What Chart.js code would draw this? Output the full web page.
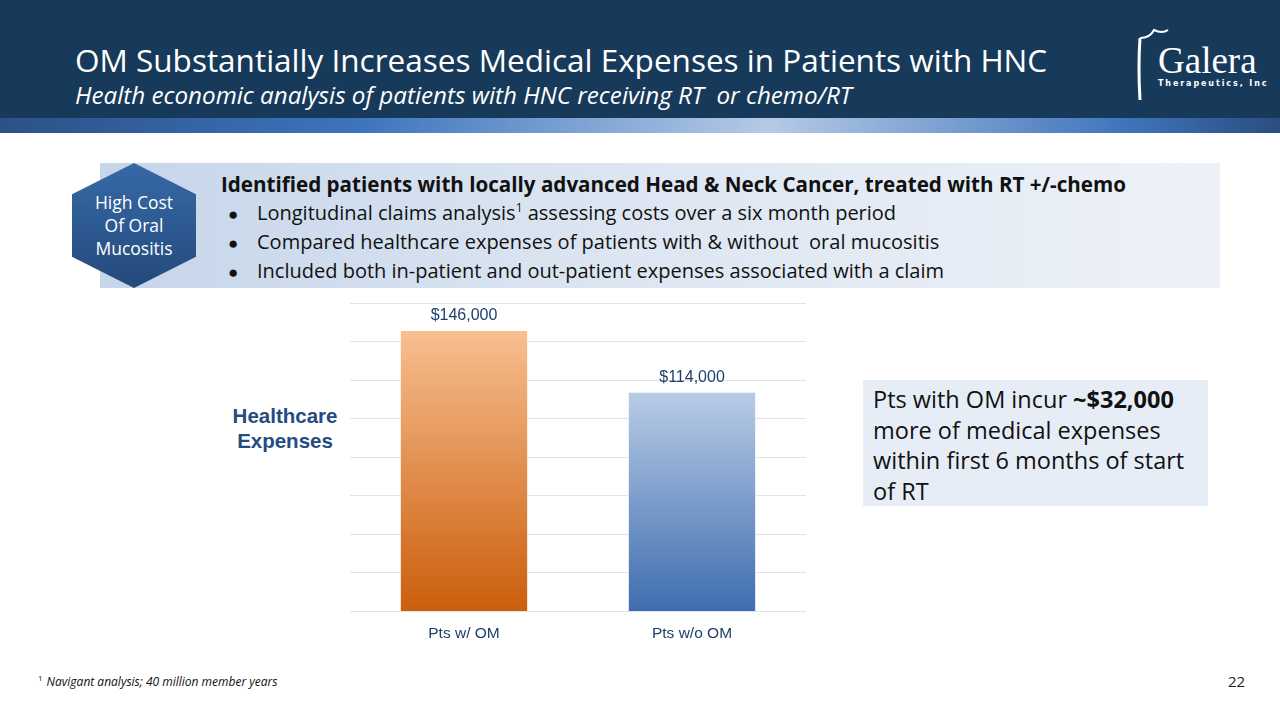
<!DOCTYPE html>
<html>
<head>
<meta charset="utf-8">
<script src="https://cdn.jsdelivr.net/npm/chart.js@4.4.0/dist/chart.umd.min.js"></script>
<style>
  html, body { margin: 0; padding: 0; }
  body { width: 1280px; height: 720px; position: relative; overflow: hidden; background: #fff; font-family: "Open Sans", "Noto Sans", sans-serif; }
  .header { position: absolute; left: 0; top: 0; width: 1280px; height: 118px; background: #173a5a; }
  .band { position: absolute; left: 0; top: 118px; width: 1280px; height: 15px;
    background: linear-gradient(90deg, #2c5187 0%, #3c74bd 28%, #b5cae6 60%, #3f74bb 88%, #2a4d80 100%); }
  .title { position: absolute; left: 75px; top: 38px; color: #fff; font-size: 31.5px; white-space: nowrap; }
  .subtitle { position: absolute; left: 75px; top: 78px; color: #fff; font-size: 24.2px; font-style: italic; white-space: nowrap; }
  .logo { position: absolute; left: 1128px; top: 26px; width: 150px; height: 80px; }
  .info { position: absolute; left: 100px; top: 163px; width: 1120px; height: 125px;
    background: linear-gradient(90deg, #c5d5ea 0%, #dae4f1 40%, #eef2f8 100%); }
  .hex { position: absolute; left: 72px; top: 163px; width: 124px; height: 125px;
    clip-path: polygon(50% 0, 100% 25%, 100% 75%, 50% 100%, 0 75%, 0 25%);
    background: linear-gradient(180deg, #3769a6 0%, #2d5a92 50%, #24497a 100%);
    color: #fff; font-size: 17.5px; line-height: 23px; text-align: center;
    display: flex; align-items: center; justify-content: center; }
  .lead { position: absolute; left: 221px; top: 170px; font-size: 20.6px; font-weight: bold; color: #111; white-space: nowrap; }
  .bul { position: absolute; left: 228px; font-size: 20px; color: #111; white-space: nowrap; }
  .bul span.dot { display: inline-block; width: 29px; font-size: 17px; }
  .bul sup { font-size: 12px; }
  .ylab { position: absolute; left: 200px; top: 403px; width: 170px; text-align: center;
    font-family: "Liberation Sans", Arial, sans-serif; font-weight: bold; font-size: 20.5px; line-height: 25px; color: #244c80; }
  .chartbox { position: absolute; left: 340px; top: 295px; width: 476px; height: 353px; }
  .note { position: absolute; left: 863px; top: 380px; width: 345px; height: 126px; background: #e7edf6; }
  .note p { margin: 0; position: absolute; left: 10px; top: 4px; font-size: 23.5px; line-height: 30.5px; color: #111; }
  .foot { position: absolute; left: 38px; top: 672px; font-size: 12px; font-style: italic; color: #111; white-space: nowrap; }
  .foot sup { font-style: normal; font-size: 8px; margin-right: 4px; }
  .pg { position: absolute; left: 1228px; top: 671px; font-size: 15px; color: #222; }
</style>
</head>
<body>
<div class="header"></div>
<div class="band"></div>
<div class="title">OM Substantially Increases Medical Expenses in Patients with HNC</div>
<div class="subtitle">Health economic analysis of patients with HNC receiving RT&nbsp; or chemo/RT</div>
<svg class="logo" viewBox="0 0 150 80">
  <path d="M12 12 Q10 40 12 74" stroke="#fff" stroke-width="3" fill="none"/>
  <path d="M12 12 Q22 12 26 4 Q34 8 40 4" stroke="#fff" stroke-width="2" fill="none"/>
  <text x="30" y="47" fill="#fff" font-family="Liberation Serif, DejaVu Serif, serif" font-size="37">Galera</text>
  <text x="30" y="60" fill="#fff" font-family="DejaVu Sans, sans-serif" font-size="8" font-weight="bold" letter-spacing="1.9">Therapeutics, Inc</text>
</svg>

<div class="info"></div>
<div class="hex"><div>High Cost<br>Of Oral<br>Mucositis</div></div>
<div class="lead">Identified patients with locally advanced Head &amp; Neck Cancer, treated with RT +/-chemo</div>
<div class="bul" style="top:199px"><span class="dot">&#9679;</span>Longitudinal claims analysis<sup>1</sup> assessing costs over a six month period</div>
<div class="bul" style="top:228px"><span class="dot">&#9679;</span>Compared healthcare expenses of patients with &amp; without&nbsp; oral mucositis</div>
<div class="bul" style="top:257px"><span class="dot">&#9679;</span>Included both in-patient and out-patient expenses associated with a claim</div>

<div class="ylab">Healthcare<br>Expenses</div>
<div class="chartbox"><canvas id="chart"></canvas></div>

<div class="note"><p>Pts with OM incur <b>~$32,000</b><br>more of medical expenses<br>within first 6 months of start<br>of RT</p></div>

<div class="foot"><sup>1</sup>Navigant analysis; 40 million member years</div>
<div class="pg">22</div>

<script>
const categories = ['Pts w/ OM', 'Pts w/o OM'];
const expenses = [146000, 114000];
const valueLabels = ['$146,000', '$114,000'];
const yMax = 160000;
const yStep = 20000;

const barGradient = (ctx, top, bottom, c1, c2) => {
  const g = ctx.createLinearGradient(0, top, 0, bottom);
  g.addColorStop(0, c1);
  g.addColorStop(1, c2);
  return g;
};

const valueLabelPlugin = {
  id: 'valueLabels',
  afterDatasetsDraw(chart) {
    const { ctx } = chart;
    const meta = chart.getDatasetMeta(0);
    ctx.save();
    ctx.fillStyle = '#1f3f6b';
    ctx.font = '16px "Liberation Sans", Arial, sans-serif';
    ctx.textAlign = 'center';
    ctx.textBaseline = 'bottom';
    meta.data.forEach((bar, i) => {
      ctx.fillText(valueLabels[i], bar.x, bar.y - 6);
    });
    ctx.restore();
  }
};

new Chart(document.getElementById('chart'), {
  type: 'bar',
  data: {
    labels: categories,
    datasets: [{
      data: expenses,
      backgroundColor(context) {
        const { chart, dataIndex } = context;
        if (!chart.chartArea) return '#f09040';
        const top = chart.scales.y.getPixelForValue(expenses[dataIndex]);
        const bottom = chart.chartArea.bottom;
        return dataIndex === 0
          ? barGradient(chart.ctx, top, bottom, '#f8bf90', '#cb5e0c')
          : barGradient(chart.ctx, top, bottom, '#b9cce6', '#3e6daf');
      },
      borderColor: 'rgba(255,255,255,0.6)',
      borderWidth: 1,
      barPercentage: 0.563,
      categoryPercentage: 1
    }]
  },
  options: {
    responsive: true,
    maintainAspectRatio: false,
    animation: false,
    layout: { padding: { left: 10, right: 10, top: 8, bottom: 0 } },
    plugins: { legend: { display: false }, tooltip: { enabled: false } },
    scales: {
      x: {
        grid: { display: false },
        border: { display: false },
        ticks: { color: '#1f3f6b', font: { family: '"Liberation Sans", Arial, sans-serif', size: 15.5 }, padding: 5 }
      },
      y: {
        min: 0,
        max: yMax,
        ticks: { display: false, stepSize: yStep },
        grid: { color: '#dfe5ee', lineWidth: 1, drawTicks: false },
        border: { display: false }
      }
    }
  },
  plugins: [valueLabelPlugin]
});
</script>
</body>
</html>
